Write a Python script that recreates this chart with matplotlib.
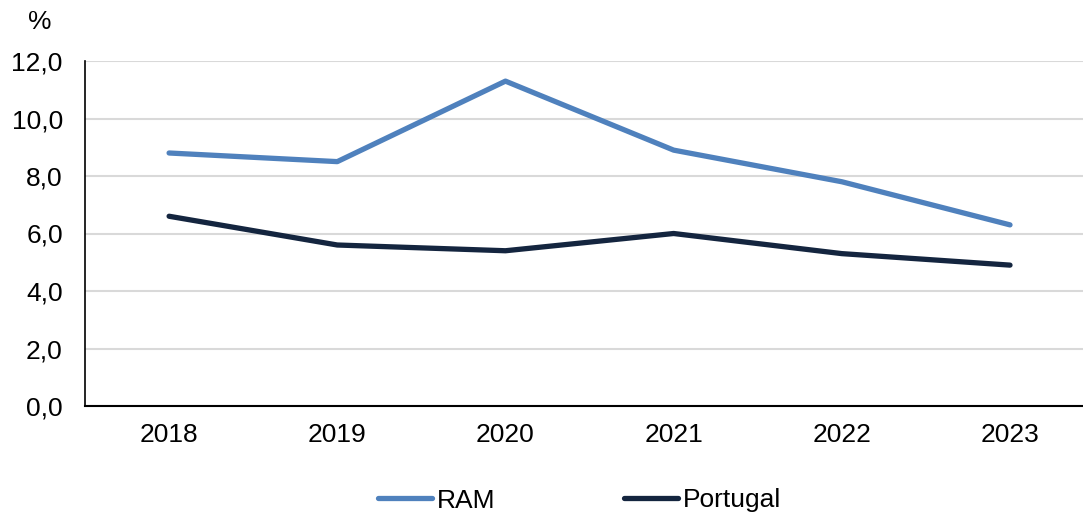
import matplotlib
matplotlib.use("Agg")
import matplotlib.pyplot as plt
from matplotlib.ticker import FuncFormatter

plt.rcParams['font.family'] = ['Liberation Sans', 'DejaVu Sans']

years = ["2018", "2019", "2020", "2021", "2022", "2023"]
ram = [8.8, 8.5, 11.3, 8.9, 7.8, 6.3]
portugal = [6.6, 5.6, 5.4, 6.0, 5.3, 4.9]

FS = 19

fig = plt.figure(figsize=(10.83, 5.12), dpi=100)
ax = fig.add_axes([85/1083, 1-406/512, 1-85/1083, (406-61)/512])

x = list(range(len(years)))
ax.plot(x, ram, color='#4F81BD', lw=3.8, solid_capstyle='round', label='RAM', zorder=3)
ax.plot(x, portugal, color='#14253F', lw=3.8, solid_capstyle='round', label='Portugal', zorder=3)

ax.set_ylim(0, 12)
ax.set_yticks([0, 2, 4, 6, 8, 10, 12])
ax.yaxis.set_major_formatter(FuncFormatter(lambda v, p: f"{v:.1f}".replace('.', ',')))
ax.set_xlim(-0.5, (1083-169)/168.2)
ax.set_xticks(x)
ax.set_xticklabels(years)
ax.grid(axis='y', color='#D9D9D9', lw=1.5, zorder=0)
ax.set_axisbelow(True)
for s in ['top', 'right']:
    ax.spines[s].set_visible(False)
ax.spines['left'].set_color('black')
ax.spines['left'].set_linewidth(1.2)
ax.spines['bottom'].set_color('black')
ax.spines['bottom'].set_linewidth(1.5)
ax.tick_params(axis='both', length=0, labelsize=FS, colors='black')
ax.tick_params(axis='y', pad=16)
ax.tick_params(axis='x', pad=12)

fig.text(40/1083, 1-22/512, '%', fontsize=FS, ha='center', va='center')

fig.legend(loc='center', bbox_to_anchor=(0.5 + 38/1083, 1-500.5/512), ncol=2, frameon=False,
           fontsize=FS, handlelength=2.05, handletextpad=0.2, columnspacing=4.85)

fig.savefig('out.png', dpi=100)
